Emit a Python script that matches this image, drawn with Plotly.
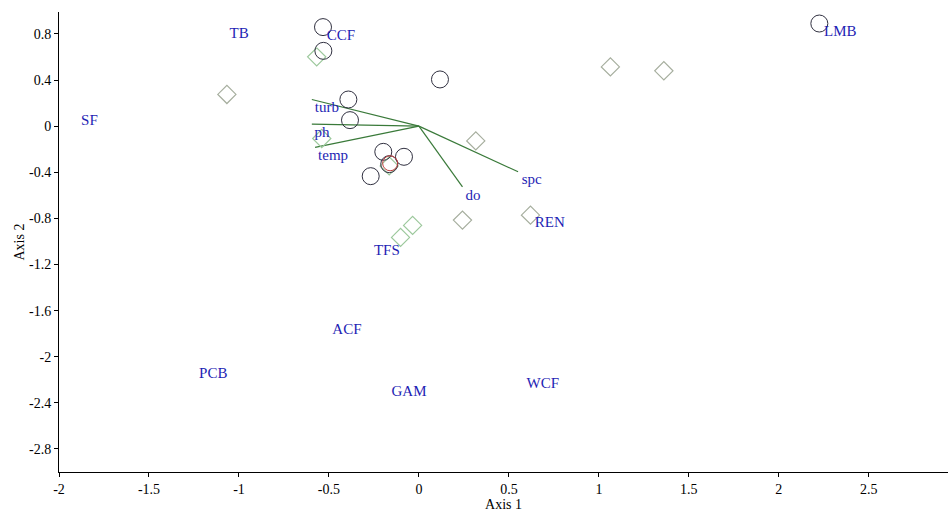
import plotly.graph_objects as go

# Sample scores (open circles)
circle_x = [-0.533, -0.531, 0.117, -0.392, -0.383, -0.198, -0.083, -0.165, -0.268, 2.225]
circle_y = [0.859, 0.653, 0.405, 0.231, 0.052, -0.223, -0.266, -0.330, -0.434, 0.89]
red_circle_x = [-0.160]
red_circle_y = [-0.322]

# Open diamonds
grey_diamond_x = [-1.067, 0.316, 0.242, 0.62, 1.064, 1.361]
grey_diamond_y = [0.275, -0.128, -0.815, -0.772, 0.514, 0.48]
green_diamond_x = [-0.568, -0.035, -0.102, -0.54, -0.165]
green_diamond_y = [0.601, -0.861, -0.965, -0.107, -0.345]

# Environmental vectors
vec_names = ["turb", "ph", "temp", "do", "spc"]
vec_x = [-0.595, -0.595, -0.577, 0.242, 0.551]
vec_y = [0.231, 0.017, -0.185, -0.526, -0.396]
vec_label_x = [-0.511, -0.538, -0.477, 0.30, 0.627]
vec_label_y = [0.156, -0.061, -0.260, -0.607, -0.468]

# Site / species labels
site_names = ["TB", "CCF", "SF", "LMB", "TFS", "REN", "ACF", "PCB", "GAM", "WCF"]
site_x = [-0.999, -0.433, -1.831, 2.342, -0.178, 0.727, -0.40, -1.143, -0.055, 0.688]
site_y = [0.798, 0.781, 0.043, 0.815, -1.084, -0.841, -1.769, -2.151, -2.307, -2.238]

# Ticks
x_ticks = [-2, -1.5, -1, -0.5, 0, 0.5, 1, 1.5, 2, 2.5]
x_tick_text = ["-2", "-1.5", "-1", "-0.5", "0", "0.5", "1", "1.5", "2", "2.5"]
y_ticks = [0.8, 0.4, 0, -0.4, -0.8, -1.2, -1.6, -2, -2.4, -2.8]
y_tick_text = ["0.8", "0.4", "0", "-0.4", "-0.8", "-1.2", "-1.6", "-2", "-2.4", "-2.8"]

FONT = "Liberation Serif"
LABEL_BLUE = "#1e1eb4"

fig = go.Figure()

# Vectors
for vx, vy in zip(vec_x, vec_y):
    fig.add_trace(go.Scatter(x=[0, vx], y=[0, vy], mode="lines",
                             line=dict(color="#3a7a3a", width=1.2),
                             hoverinfo="skip", showlegend=False))

fig.add_trace(go.Scatter(x=grey_diamond_x, y=grey_diamond_y, mode="markers",
                         marker=dict(symbol="diamond-open", size=14,
                                     color="#a6ae9e", line=dict(width=1.2)),
                         showlegend=False))
fig.add_trace(go.Scatter(x=green_diamond_x, y=green_diamond_y, mode="markers",
                         marker=dict(symbol="diamond-open", size=14,
                                     color="#9cc89c", line=dict(width=1.2)),
                         showlegend=False))
fig.add_trace(go.Scatter(x=circle_x, y=circle_y, mode="markers",
                         marker=dict(symbol="circle-open", size=17,
                                     color="#303040", line=dict(width=1)),
                         showlegend=False))
fig.add_trace(go.Scatter(x=red_circle_x, y=red_circle_y, mode="markers",
                         marker=dict(symbol="circle-open", size=15,
                                     color="#c04040", line=dict(width=1)),
                         showlegend=False))

fig.add_trace(go.Scatter(x=vec_label_x, y=vec_label_y, mode="text", text=vec_names,
                         textfont=dict(family=FONT, size=15, color=LABEL_BLUE),
                         showlegend=False))
fig.add_trace(go.Scatter(x=site_x, y=site_y, mode="text", text=site_names,
                         textfont=dict(family=FONT, size=15, color=LABEL_BLUE),
                         showlegend=False))

fig.update_layout(
    width=950, height=512,
    margin=dict(l=59, r=2, t=12, b=40),
    paper_bgcolor="white", plot_bgcolor="white",
    font=dict(family=FONT, size=14, color="black"),
    xaxis=dict(range=[-2, 2.94], tickvals=x_ticks, ticktext=x_tick_text,
               showgrid=False, zeroline=False, showline=True, linecolor="black",
               linewidth=1, ticks="outside", ticklen=4, tickcolor="black",
               title=dict(text="Axis 1", font=dict(family=FONT, size=14), standoff=0)),
    yaxis=dict(range=[-3, 0.99], tickvals=y_ticks, ticktext=y_tick_text,
               showgrid=False, zeroline=False, showline=True, linecolor="black",
               linewidth=1, ticks="outside", ticklen=4, tickcolor="black",
               title=dict(text="Axis 2", font=dict(family=FONT, size=14), standoff=1)),
)

fig.write_html("out.html")
